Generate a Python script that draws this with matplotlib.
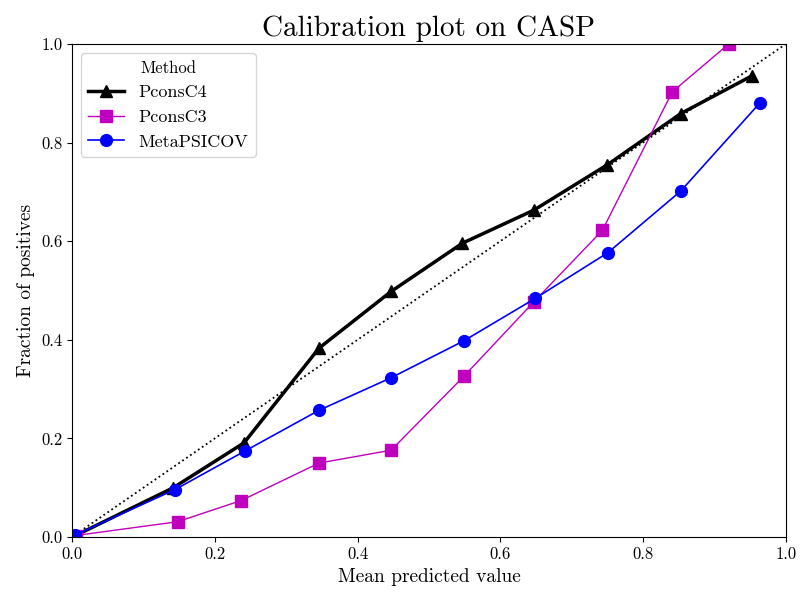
import matplotlib
matplotlib.use("Agg")
import matplotlib.pyplot as plt

plt.rcParams['font.family'] = ['cmr10', 'DejaVu Serif']
plt.rcParams['axes.formatter.use_mathtext'] = True
plt.rcParams['mathtext.fontset'] = 'cm'

methods = ["PconsC4", "PconsC3", "MetaPSICOV"]

pc4_x = [0.005, 0.142, 0.241, 0.346, 0.447, 0.547, 0.647, 0.750, 0.853, 0.952]
pc4_y = [0.003, 0.100, 0.191, 0.383, 0.498, 0.596, 0.663, 0.755, 0.859, 0.935]

pc3_x = [0.005, 0.148, 0.237, 0.346, 0.447, 0.549, 0.647, 0.743, 0.841, 0.920]
pc3_y = [0.003, 0.031, 0.074, 0.150, 0.176, 0.326, 0.477, 0.622, 0.903, 1.000]

meta_x = [0.004, 0.144, 0.243, 0.346, 0.447, 0.549, 0.649, 0.751, 0.853, 0.964]
meta_y = [0.004, 0.096, 0.175, 0.257, 0.323, 0.398, 0.484, 0.577, 0.702, 0.881]

ticks = [0.0, 0.2, 0.4, 0.6, 0.8, 1.0]

fig, ax = plt.subplots(figsize=(8.01, 5.98), dpi=100)
fig.subplots_adjust(left=0.0899, right=0.981, top=0.9264, bottom=0.102)
ax.plot([0, 1], [0, 1], 'k:', lw=1.3)
ax.plot(pc4_x, pc4_y, '-^', color='black', lw=2.5, ms=8.5, label=methods[0])
ax.plot(pc3_x, pc3_y, '-s', color='m', lw=1.0, ms=8.5, label=methods[1])
ax.plot(meta_x, meta_y, '-o', color='blue', lw=1.2, ms=8.5, label=methods[2])

ax.set_xlim(0, 1)
ax.set_ylim(0, 1)
ax.set_xticks(ticks)
ax.set_yticks(ticks)
ax.set_xticklabels([f"{t:.1f}" for t in ticks])
ax.set_yticklabels([f"{t:.1f}" for t in ticks])
ax.tick_params(labelsize=12)
ax.set_xlabel("Mean predicted value", fontsize=14)
ax.set_ylabel("Fraction of positives", fontsize=14)
ax.set_title("Calibration plot on CASP", fontsize=21)
leg = ax.legend(title="Method", loc='upper left', fontsize=13, title_fontsize=12,
                handlelength=2.0)
fig.savefig("out.png", dpi=100)
